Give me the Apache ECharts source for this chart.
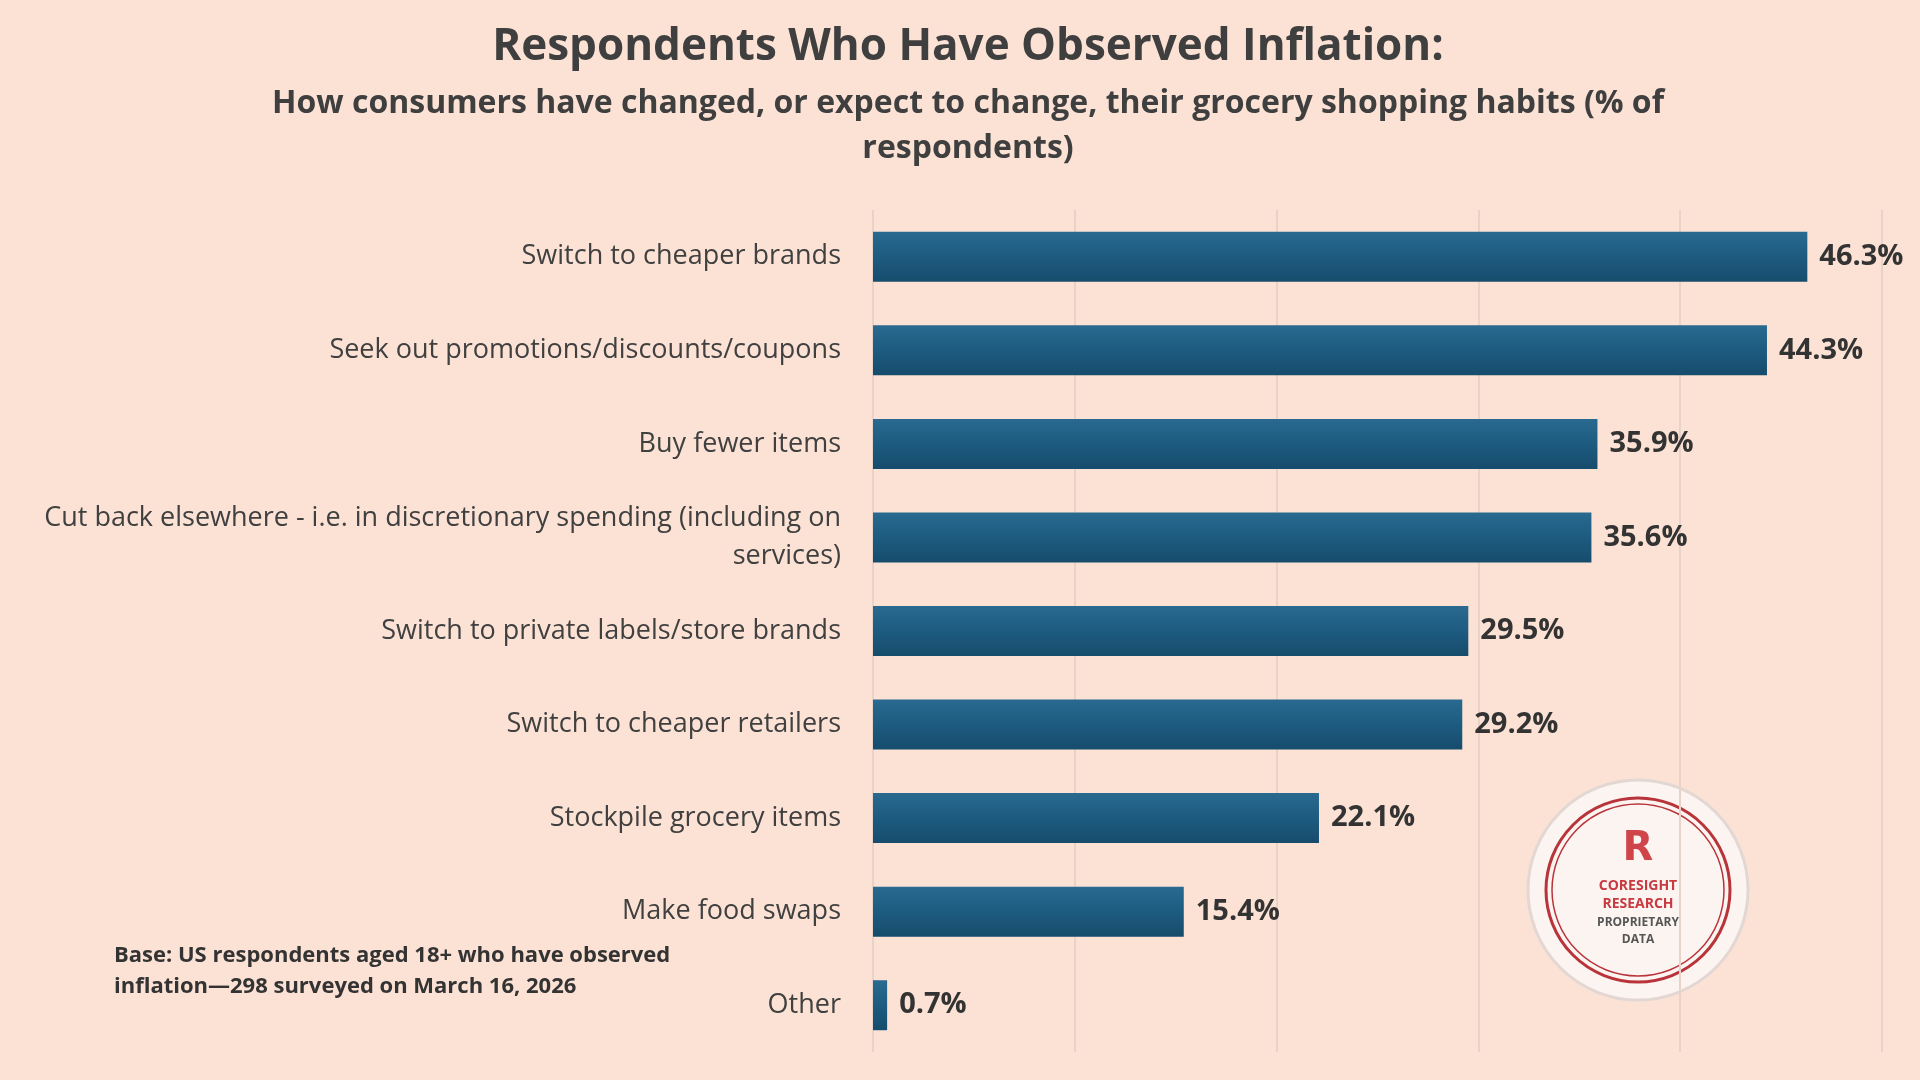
<!DOCTYPE html>
<html><head><meta charset="utf-8">
<script src="https://cdn.jsdelivr.net/npm/echarts@6/dist/echarts.min.js"></script>
<style>html,body{margin:0;background:#fbe2d5}#c{width:1920px;height:1080px}</style>
</head><body><div id="c"></div>
<script>
var categories = ['Switch to cheaper brands','Seek out promotions/discounts/coupons','Buy fewer items',
  'Cut back elsewhere - i.e. in discretionary spending (including on\nservices)',
  'Switch to private labels/store brands','Switch to cheaper retailers','Stockpile grocery items','Make food swaps','Other'];
var values = [46.3, 44.3, 35.9, 35.6, 29.5, 29.2, 22.1, 15.4, 0.7];
var xTicks = [0, 10, 20, 30, 40, 50];

var chart = echarts.init(document.getElementById('c'));
chart.setOption({
  backgroundColor: '#fbe2d5',
  title: {
    text: 'Respondents Who Have Observed Inflation:',
    subtext: 'How consumers have changed, or expect to change, their grocery shopping habits (% of\nrespondents)',
    left: 963, top: 20, textAlign: 'center',
    textStyle: {fontFamily: 'Open Sans', fontSize: 44, fontWeight: 'bold', color: '#3f3f3f'},
    subtextStyle: {fontFamily: 'Open Sans', fontSize: 32, fontWeight: 'bold', color: '#3f3f3f', lineHeight: 45, align: 'center'},
    itemGap: 12
  },
  grid: {left: 873, right: 38, top: 210, bottom: 28},
  xAxis: {
    type: 'value', min: xTicks[0], max: xTicks[xTicks.length - 1], interval: 10,
    axisLabel: {show: false}, axisLine: {show: false}, axisTick: {show: false},
    splitLine: {lineStyle: {color: '#e9d3c8', width: 2}}
  },
  yAxis: {
    type: 'category', data: categories, inverse: true,
    axisLine: {show: false}, axisTick: {show: false},
    axisLabel: {fontFamily: 'Open Sans', fontSize: 27, color: '#404040', margin: 32, lineHeight: 38, align: 'right'}
  },
  series: [{
    type: 'bar', data: values, barWidth: 50,
    itemStyle: {color: new echarts.graphic.LinearGradient(0, 0, 0, 1, [
      {offset: 0, color: '#2a6a90'}, {offset: 0.5, color: '#1d5b80'}, {offset: 1, color: '#164c6c'}])},
    label: {show: true, position: 'right', distance: 12, formatter: '{c}%',
      fontFamily: 'Open Sans', fontSize: 29, fontWeight: 'bold', color: '#333'}
  }],
  graphic: [
    {type: 'text', left: 114, top: 940, style: {
      text: 'Base: US respondents aged 18+ who have observed\ninflation\u2014298 surveyed on March 16, 2026',
      fontFamily: 'Open Sans', fontSize: 22, fontWeight: 'bold', fill: '#333', lineHeight: 31}},
    {type: 'circle', shape: {cx: 1638, cy: 890, r: 110}, style: {fill: '#fcf4f1', stroke: '#e3d7d3', lineWidth: 3}},
    {type: 'circle', shape: {cx: 1638, cy: 890, r: 92}, style: {fill: 'none', stroke: '#b8343a', lineWidth: 3}},
    {type: 'circle', shape: {cx: 1638, cy: 890, r: 86}, style: {fill: 'none', stroke: '#b8343a', lineWidth: 1.5}},
    {type: 'text', x: 1638, y: 850, style: {text: 'R', fontFamily: 'DejaVu Sans', fontSize: 40, fontWeight: 'bold', fill: '#d0454a', align: 'center', verticalAlign: 'middle'}},
    {type: 'text', x: 1638, y: 895, style: {text: 'CORESIGHT\nRESEARCH', fontFamily: 'Open Sans', fontSize: 14, fontWeight: 'bold', fill: '#c63a40', align: 'center', verticalAlign: 'middle', lineHeight: 18}},
    {type: 'text', x: 1638, y: 931, style: {text: 'PROPRIETARY\nDATA', fontFamily: 'Open Sans', fontSize: 12, fontWeight: 'bold', fill: '#555', align: 'center', verticalAlign: 'middle', lineHeight: 17}}
  ]
});
</script></body></html>
